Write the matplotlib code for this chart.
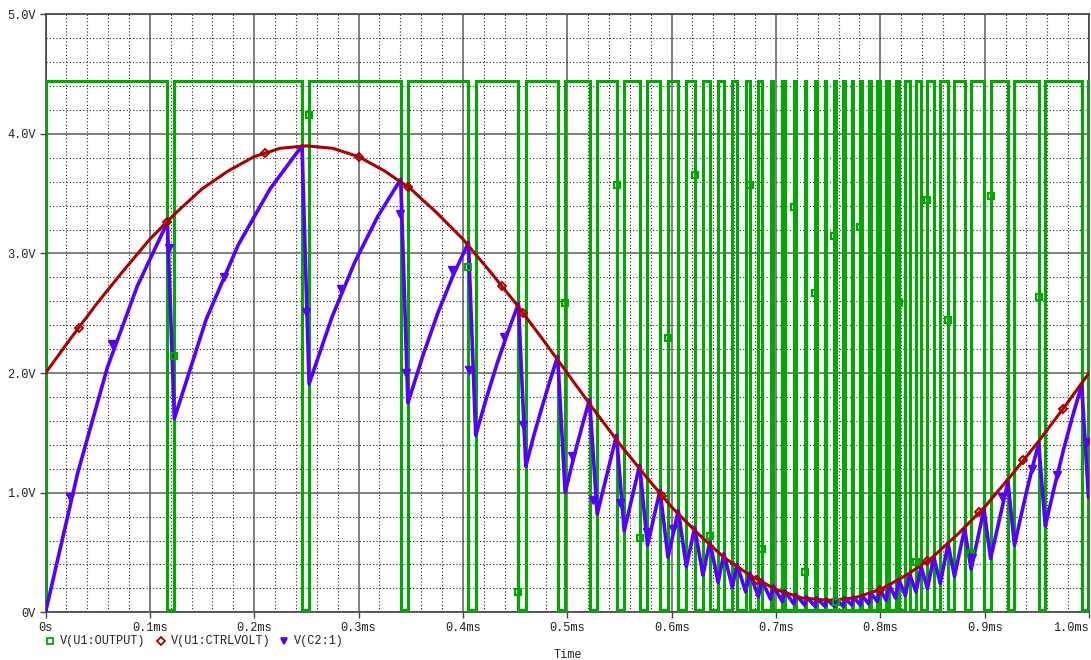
import numpy as np
import matplotlib
matplotlib.use("Agg")
import matplotlib.pyplot as plt
from matplotlib.ticker import MultipleLocator
from matplotlib.lines import Line2D

plt.rcParams["font.family"] = ["Liberation Mono", "DejaVu Sans Mono"]

# control voltage V(U1:CTRLVOLT), time in ms
ctrl_t = [0.0, 0.025, 0.05, 0.075, 0.1, 0.125, 0.15, 0.175, 0.2, 0.225,
          0.25, 0.275, 0.3, 0.325, 0.35, 0.375, 0.4, 0.425, 0.45, 0.475,
          0.5, 0.525, 0.55, 0.575, 0.6, 0.625, 0.65, 0.675, 0.7, 0.725,
          0.75, 0.775, 0.8, 0.825, 0.85, 0.875, 0.9, 0.925, 0.95, 0.975, 1.0]
ctrl_v = [2.00, 2.30, 2.59, 2.86, 3.12, 3.34, 3.54, 3.69, 3.81, 3.88,
          3.90, 3.88, 3.81, 3.69, 3.54, 3.34, 3.12, 2.86, 2.59, 2.30,
          2.00, 1.70, 1.41, 1.14, 0.88, 0.66, 0.46, 0.31, 0.19, 0.12,
          0.10, 0.12, 0.19, 0.31, 0.46, 0.66, 0.88, 1.14, 1.41, 1.70, 2.00]

# capacitor peaks (output falls) and troughs (output rises)
peak_t = [0.1168, 0.2458, 0.3404, 0.4053, 0.4532, 0.4908, 0.5214, 0.5472, 0.5694, 0.5889,
          0.6064, 0.6221, 0.6366, 0.6501, 0.6627, 0.6748, 0.6863, 0.6974, 0.7083, 0.7189,
          0.7291, 0.7390, 0.7484, 0.7573, 0.7659, 0.7743, 0.7826, 0.7910, 0.7996, 0.8085,
          0.8180, 0.8281, 0.8391, 0.8513, 0.8650, 0.8808, 0.8994, 0.9223, 0.9518, 0.9930]
peak_v = [3.26, 3.90, 3.62, 3.09, 2.58, 2.14, 1.78, 1.48, 1.23, 1.02,
          0.85, 0.71, 0.59, 0.49, 0.40, 0.33, 0.27, 0.22, 0.18, 0.15,
          0.13, 0.12, 0.11, 0.11, 0.12, 0.13, 0.14, 0.16, 0.19, 0.23,
          0.27, 0.32, 0.38, 0.46, 0.57, 0.70, 0.86, 1.09, 1.41, 1.90]
trough_t = [0.1235, 0.2526, 0.3473, 0.4123, 0.4603, 0.4980, 0.5287, 0.5546, 0.5769, 0.5965,
            0.6141, 0.6300, 0.6446, 0.6582, 0.6710, 0.6832, 0.6949, 0.7062, 0.7171, 0.7276,
            0.7376, 0.7470, 0.7560, 0.7645, 0.7727, 0.7808, 0.7889, 0.7972, 0.8057, 0.8146,
            0.8240, 0.8342, 0.8452, 0.8574, 0.8711, 0.8870, 0.9057, 0.9286, 0.9581, 0.9995]
trough_v = [1.62, 1.91, 1.75, 1.48, 1.22, 1.00, 0.82, 0.68, 0.56, 0.46,
            0.38, 0.31, 0.25, 0.21, 0.17, 0.13, 0.11, 0.09, 0.07, 0.06,
            0.05, 0.05, 0.05, 0.05, 0.06, 0.06, 0.07, 0.09, 0.10, 0.12,
            0.14, 0.17, 0.20, 0.24, 0.30, 0.36, 0.45, 0.56, 0.72, 0.96]
# extra points on the longer charging ramps
ramp_t = [0.0, 0.0307, 0.0594, 0.0881, 0.1540, 0.1846, 0.2152, 0.2746, 0.2965, 0.3184,
          0.3618, 0.3763, 0.3908, 0.4225, 0.4328, 0.4430, 0.4680, 0.4756, 0.4832,
          0.5038, 0.5097, 0.5156, 0.9344, 0.9402, 0.9460, 0.9669, 0.9756, 0.9843, 1.0]
ramp_v = [0.0, 1.16, 2.05, 2.73, 2.45, 3.07, 3.54, 2.47, 2.93, 3.31,
          2.15, 2.51, 2.82, 1.79, 2.08, 2.34, 1.48, 1.71, 1.93,
          1.21, 1.41, 1.60, 0.79, 1.01, 1.22, 1.05, 1.36, 1.64, 0.98]

out_high = 4.44
out_low = 0.02

# trace markers
sq_t = [0.1235, 0.2526, 0.4053, 0.4532, 0.4980, 0.5472, 0.5694, 0.5965, 0.6221, 0.6366,
        0.6748, 0.6863, 0.7171, 0.7276, 0.7376, 0.7560, 0.7573, 0.7808, 0.8180, 0.8342,
        0.8452, 0.8650, 0.8870, 0.9057, 0.9518]
sq_v = [2.14, 4.16, 2.89, 0.17, 2.59, 3.57, 0.62, 2.29, 3.66, 0.64,
        3.57, 0.53, 3.39, 0.34, 2.67, 3.15, 0.09, 3.22, 2.59, 0.42,
        3.45, 2.44, 0.50, 3.48, 2.64]
dm_t = [0.032, 0.116, 0.21, 0.30, 0.347, 0.437, 0.458, 0.591, 0.682, 0.80, 0.845, 0.895, 0.937, 0.975]
dm_v = [2.38, 3.26, 3.84, 3.81, 3.56, 2.73, 2.50, 0.97, 0.27, 0.19, 0.43, 0.84, 1.27, 1.70]
tri_t = [0.023, 0.064, 0.118, 0.171, 0.250, 0.283, 0.340, 0.345, 0.390, 0.406, 0.439,
         0.458, 0.505, 0.525, 0.551, 0.576, 0.601, 0.888, 0.917, 0.945, 0.969, 0.998]
tri_v = [0.96, 2.24, 3.05, 2.80, 2.51, 2.70, 3.33, 2.00, 2.86, 2.03, 2.30,
         1.57, 1.31, 0.94, 0.91, 0.67, 0.70, 0.45, 0.96, 1.20, 1.15, 1.42]

x_ticks = [0.0, 0.1, 0.2, 0.3, 0.4, 0.5, 0.6, 0.7, 0.8, 0.9, 1.0]
x_labels = ["0s", "0.1ms", "0.2ms", "0.3ms", "0.4ms", "0.5ms", "0.6ms", "0.7ms", "0.8ms", "0.9ms", "1.0ms"]
y_ticks = [0, 1, 2, 3, 4, 5]
y_labels = ["0V", "1.0V", "2.0V", "3.0V", "4.0V", "5.0V"]

GREEN = "#00a800"
RED = "#aa0000"
PURPLE = "#5500ff"

# build the traces
out_t, out_v = [0.0, 0.0], [out_low, out_high]
for a, b in zip(peak_t, trough_t):
    out_t += [a, a, b, b]
    out_v += [out_high, out_low, out_low, out_high]
out_t.append(1.0)
out_v.append(out_high)

cap = sorted(zip(list(peak_t) + list(trough_t) + ramp_t, list(peak_v) + list(trough_v) + ramp_v))
cap_t = [p[0] for p in cap]
cap_v = [p[1] for p in cap]

W, H = 1091, 660
fig = plt.figure(figsize=(W / 100, H / 100), dpi=100)
ax = fig.add_axes([45.5 / W, 1 - 612.3 / H, 1043.5 / W, 598 / H])
ax.set_xlim(0, 1.0)
ax.set_ylim(0, 5.0)

ax.xaxis.set_minor_locator(MultipleLocator(0.02))
ax.yaxis.set_minor_locator(MultipleLocator(0.2))
ax.grid(which="major", color="#6a6a6a", lw=1.2, ls="-")
ax.grid(which="minor", color="#222222", lw=0.8, ls=(0, (1, 2)))
ax.set_axisbelow(True)
for s in ax.spines.values():
    s.set_color("#444444")
    s.set_linewidth(1.2)

ax.set_xticks(x_ticks)
ax.set_xticklabels(x_labels)
ax.set_yticks(y_ticks)
ax.set_yticklabels(y_labels)
ax.tick_params(which="major", direction="out", length=4, width=1, color="#444444",
               labelsize=8.6, pad=3, labelcolor="#222222")
ax.tick_params(which="minor", length=0)
ax.get_xticklabels()[-1].set_ha("right")

ax.plot(out_t, out_v, color=GREEN, lw=2.2, zorder=3, solid_joinstyle="miter")
ax.plot(cap_t, cap_v, color=PURPLE, lw=2.6, zorder=4)
ax.plot(ctrl_t, ctrl_v, color=RED, lw=2.2, zorder=5)
ax.plot(sq_t, sq_v, ls="none", marker="s", ms=5, mfc="none", mec=GREEN, mew=1.6, zorder=6)
ax.plot(dm_t, dm_v, ls="none", marker="D", ms=4, mfc="none", mec=RED, mew=1.4, zorder=6)
ax.plot(tri_t, tri_v, ls="none", marker="v", ms=6, color=PURPLE, zorder=6)

# legend row under the axis
ly = 1 - 641 / H
for x, m, c, name in ((50, "s", GREEN, "V(U1:OUTPUT)"), (161, "D", RED, "V(U1:CTRLVOLT)"),
                      (284, "v", PURPLE, "V(C2:1)")):
    mfc = c if m == "v" else "none"
    fig.add_artist(Line2D([x / W], [ly], transform=fig.transFigure, marker=m, ms=5 if m != "D" else 4,
                          mfc=mfc, mec=c, mew=1.3, ls="none"))
    fig.text((x + 10) / W, ly, name, fontsize=8.6, va="center", ha="left", color="#222222")

fig.text(568 / W, 1 - 655 / H, "Time", fontsize=8.6, va="center", ha="center", color="#222222")

fig.savefig("out.png")
